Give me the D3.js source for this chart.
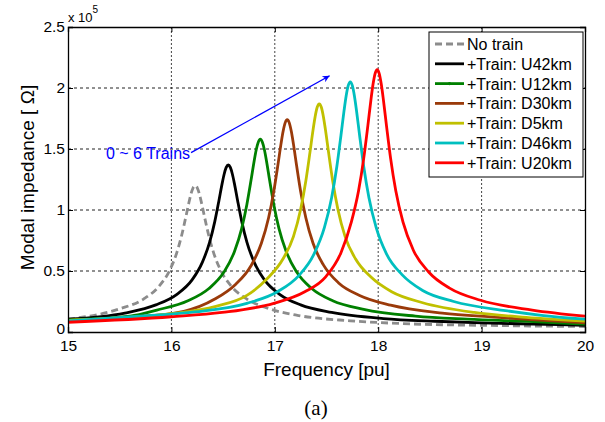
<!doctype html>
<html lang="en">
<head>
    <meta charset="UTF-8">
    <script src="https://cdnjs.cloudflare.com/ajax/libs/d3/7.0.0/d3.min.js"></script>
    <title>Modal impedance</title>
    <style>
        body { margin: 0; background: #fff; }
    </style>
</head>
<body>

<div id="Area"></div>

<script>

    // tick values
    const freqTicks = [15, 16, 17, 18, 19, 20];
    const impTicks = [0, 0.5, 1, 1.5, 2, 2.5];

    // legend labels
    const seriesNames = ["No train", "+Train: U42km", "+Train: U12km", "+Train: D30km",
        "+Train: D5km", "+Train: D46km", "+Train: U20km"];

    // [frequency (pu), |Z| (x 1e5 ohm)]
    const noTrain = [[15, 0.105], [15.5, 0.19], [15.73, 0.27], [15.88, 0.375], [15.98, 0.50], [16.05, 0.645],
        [16.10, 0.795], [16.14, 0.945], [16.17, 1.063], [16.19, 1.133], [16.21, 1.182], [16.23, 1.20],
        [16.25, 1.182], [16.27, 1.133], [16.29, 1.063], [16.32, 0.945], [16.36, 0.795], [16.41, 0.645],
        [16.48, 0.50], [16.58, 0.375], [16.73, 0.27], [16.93, 0.195], [17.23, 0.135], [17.73, 0.092],
        [18.23, 0.069], [19.23, 0.052], [20, 0.045]];
    const trainU42 = [[15, 0.105], [15.55, 0.155], [15.85, 0.222], [16.05, 0.307], [16.20, 0.427], [16.30, 0.573],
        [16.37, 0.737], [16.42, 0.907], [16.46, 1.078], [16.49, 1.214], [16.51, 1.293], [16.53, 1.349],
        [16.55, 1.37], [16.57, 1.349], [16.59, 1.293], [16.61, 1.214], [16.64, 1.078], [16.68, 0.907],
        [16.73, 0.737], [16.80, 0.573], [16.90, 0.427], [17.05, 0.307], [17.25, 0.222], [17.55, 0.16],
        [18.05, 0.11], [18.55, 0.088], [19, 0.075], [19.5, 0.065], [20, 0.055]];
    const trainU12 = [[15, 0.10], [15.6, 0.13], [15.86, 0.18], [16.16, 0.256], [16.36, 0.354], [16.51, 0.493],
        [16.61, 0.66], [16.68, 0.85], [16.73, 1.046], [16.77, 1.243], [16.80, 1.40], [16.82, 1.492],
        [16.84, 1.556], [16.86, 1.58], [16.88, 1.556], [16.90, 1.492], [16.92, 1.40], [16.95, 1.243],
        [16.99, 1.046], [17.04, 0.85], [17.11, 0.66], [17.21, 0.493], [17.36, 0.354], [17.56, 0.256],
        [17.86, 0.185], [18.36, 0.13], [18.86, 0.105], [19.5, 0.085], [20, 0.065]];
    const trainD30 = [[15, 0.095], [15.6, 0.12], [16.12, 0.17], [16.42, 0.27], [16.62, 0.39], [16.77, 0.543],
        [16.87, 0.727], [16.94, 0.936], [16.99, 1.152], [17.03, 1.369], [17.06, 1.542], [17.08, 1.643],
        [17.10, 1.714], [17.12, 1.74], [17.14, 1.714], [17.16, 1.643], [17.18, 1.542], [17.21, 1.369],
        [17.25, 1.152], [17.30, 0.936], [17.37, 0.727], [17.47, 0.55], [17.62, 0.40], [17.82, 0.30],
        [18.12, 0.22], [18.62, 0.155], [19.12, 0.122], [19.6, 0.095], [20, 0.075]];
    const trainD5 = [[15, 0.095], [15.5, 0.115], [16.0, 0.15], [16.43, 0.21], [16.73, 0.30], [16.93, 0.44],
        [17.08, 0.60], [17.18, 0.782], [17.25, 1.006], [17.30, 1.238], [17.34, 1.472], [17.37, 1.657],
        [17.39, 1.765], [17.41, 1.842], [17.43, 1.87], [17.45, 1.842], [17.47, 1.765], [17.49, 1.657],
        [17.52, 1.472], [17.56, 1.238], [17.61, 1.006], [17.68, 0.782], [17.78, 0.60], [17.93, 0.45],
        [18.13, 0.33], [18.43, 0.24], [18.93, 0.16], [19.43, 0.12], [20, 0.09]];
    const trainD46 = [[15, 0.09], [15.7, 0.13], [16.23, 0.165], [16.73, 0.235], [17.03, 0.332], [17.23, 0.46],
        [17.38, 0.64], [17.48, 0.857], [17.55, 1.103], [17.60, 1.357], [17.64, 1.613], [17.67, 1.816],
        [17.69, 1.935], [17.71, 2.019], [17.73, 2.05], [17.75, 2.019], [17.77, 1.935], [17.79, 1.816],
        [17.82, 1.613], [17.86, 1.357], [17.91, 1.103], [17.98, 0.857], [18.08, 0.64], [18.23, 0.47],
        [18.43, 0.34], [18.73, 0.25], [19.23, 0.175], [19.6, 0.135], [20, 0.105]];
    const trainU20 = [[15, 0.08], [16.0, 0.125], [16.49, 0.16], [16.99, 0.235], [17.29, 0.33], [17.49, 0.45],
        [17.64, 0.65], [17.74, 0.90], [17.81, 1.157], [17.86, 1.423], [17.90, 1.692], [17.93, 1.905],
        [17.95, 2.03], [17.97, 2.118], [17.99, 2.15], [18.01, 2.118], [18.03, 2.03], [18.05, 1.905],
        [18.08, 1.692], [18.12, 1.423], [18.17, 1.157], [18.24, 0.90], [18.34, 0.67], [18.49, 0.49],
        [18.69, 0.36], [18.99, 0.26], [19.49, 0.18], [20, 0.13]];

    const seriesData = [noTrain, trainU42, trainU12, trainD30, trainD5, trainD46, trainU20];
    const seriesColors = ["#8c8c8c", "#000000", "#008000", "#9a3a0a", "#c0c000", "#00bfbf", "#ff0000"];

    // arrow annotation, data coords [start, end]
    const arrowFrom = [16.19, 1.47];
    const arrowTo = [17.53, 2.10];

    const margin = {top: 27, right: 20, bottom: 90, left: 68},
        width = 605 - margin.left - margin.right,
        height = 422 - margin.top - margin.bottom;

    const font = "'Liberation Sans', Arial, sans-serif";

    const root = d3.select("#Area")
        .append("svg")
        .attr("width", 605)
        .attr("height", 422)
        .attr("font-family", font);

    const svg = root.append("g")
        .attr("transform", "translate(" + margin.left + "," + margin.top + ")");

    const x = d3.scaleLinear().domain([15, 20]).range([0, width]);
    const y = d3.scaleLinear().domain([0, 2.5]).range([height, 0]);

    svg.append("clipPath").attr("id", "clip")
        .append("rect").attr("width", width).attr("height", height);

    // grid
    svg.append("g").selectAll("line")
        .data(freqTicks.slice(1, -1))
        .join("line")
        .attr("x1", d => x(d)).attr("x2", d => x(d))
        .attr("y1", 0).attr("y2", height)
        .attr("stroke", "#444").attr("stroke-width", 1).attr("stroke-dasharray", "2,2");
    svg.append("g").selectAll("line")
        .data(impTicks.slice(1, -1))
        .join("line")
        .attr("x1", 0).attr("x2", width)
        .attr("y1", d => y(d)).attr("y2", d => y(d))
        .attr("stroke", "#222").attr("stroke-width", 1).attr("stroke-dasharray", "3,3");

    // curves
    const line = d3.line()
        .x(d => x(d[0]))
        .y(d => y(d[1]))
        .curve(d3.curveMonotoneX);

    svg.append("g").attr("clip-path", "url(#clip)")
        .selectAll("path")
        .data(seriesData)
        .join("path")
        .attr("d", line)
        .attr("fill", "none")
        .attr("stroke", (d, i) => seriesColors[i])
        .attr("stroke-width", 2.8)
        .attr("stroke-dasharray", (d, i) => i === 0 ? "7,4" : null);

    // axes, ticks pointing inward
    const fmt = d3.format("~g");
    const gx = svg.append("g").attr("transform", "translate(0," + height + ")")
        .call(d3.axisBottom(x).tickValues(freqTicks).tickSize(-5).tickPadding(8).tickFormat(fmt));
    const gy = svg.append("g")
        .call(d3.axisLeft(y).tickValues(impTicks).tickSize(-5).tickPadding(3).tickFormat(fmt));
    svg.append("g")
        .call(d3.axisTop(x).tickValues(freqTicks).tickSize(-5).tickFormat(""));
    svg.append("g").attr("transform", "translate(" + width + ",0)")
        .call(d3.axisRight(y).tickValues(impTicks).tickSize(-5).tickFormat(""));

    svg.selectAll(".domain").attr("stroke", "#000").attr("stroke-width", 1.3);
    svg.selectAll(".tick line").attr("stroke", "#000");
    svg.selectAll(".tick text").attr("font-size", 15.5).attr("fill", "#000").attr("font-family", font);
    // lift the y "0" a little so it clears the "15" below it
    gy.selectAll(".tick text").filter(d => d === 0).attr("dy", "0.1em");

    // exponent
    const expo = svg.append("text").attr("x", 0).attr("y", -5).attr("font-size", 13);
    expo.append("tspan").text("x 10");
    expo.append("tspan").attr("dy", -9).attr("font-size", 10).text("5");

    // axis labels
    svg.append("text")
        .attr("x", width / 2).attr("y", height + 44)
        .attr("text-anchor", "middle").attr("font-size", 19)
        .text("Frequency [pu]");
    svg.append("text")
        .attr("transform", "translate(" + (-34) + "," + (height / 2 - 2) + ") rotate(-90)")
        .attr("text-anchor", "middle").attr("font-size", 19)
        .text("Modal impedance [ \u03A9]");

    // annotation
    svg.append("defs").append("marker")
        .attr("id", "head").attr("viewBox", "0 0 10 10")
        .attr("refX", 10).attr("refY", 5)
        .attr("markerWidth", 11).attr("markerHeight", 7)
        .attr("markerUnits", "userSpaceOnUse")
        .attr("orient", "auto")
        .append("path").attr("d", "M0,0L10,5L0,10L3,5Z").attr("fill", "#0000ff");
    svg.append("line")
        .attr("x1", x(arrowFrom[0])).attr("y1", y(arrowFrom[1]))
        .attr("x2", x(arrowTo[0])).attr("y2", y(arrowTo[1]))
        .attr("stroke", "#0000ff").attr("stroke-width", 1.3)
        .attr("marker-end", "url(#head)");
    svg.append("text")
        .attr("x", x(arrowFrom[0]) - 1).attr("y", y(arrowFrom[1]) + 6)
        .attr("text-anchor", "end").attr("font-size", 16).attr("fill", "#0000ff")
        .text("0 ~ 6 Trains");

    // legend
    const lg = svg.append("g").attr("transform", "translate(" + (width - 156) + ",5)");
    lg.append("rect")
        .attr("width", 154).attr("height", 145)
        .attr("fill", "#fff").attr("stroke", "#000").attr("stroke-width", 1);
    const rows = lg.selectAll("g.row")
        .data(seriesNames)
        .join("g").attr("class", "row")
        .attr("transform", (d, i) => "translate(0," + (12 + i * 19.8) + ")");
    rows.append("line")
        .attr("x1", 6).attr("x2", 35).attr("y1", 0).attr("y2", 0)
        .attr("stroke", (d, i) => seriesColors[i])
        .attr("stroke-width", 2.8)
        .attr("stroke-dasharray", (d, i) => i === 0 ? "7,4" : null);
    rows.filter((d, i) => i === 2).append("circle")
        .attr("cx", 20.5).attr("cy", 0).attr("r", 1.6).attr("fill", seriesColors[2]);
    rows.append("text")
        .attr("x", 38).attr("y", 6)
        .attr("font-size", 16)
        .text(d => d);

    // panel caption
    root.append("text")
        .attr("x", 316).attr("y", 415)
        .attr("text-anchor", "middle").attr("font-size", 21)
        .attr("font-family", "'Liberation Serif', 'Times New Roman', serif")
        .text("(a)");

</script>
</body>
</html>
